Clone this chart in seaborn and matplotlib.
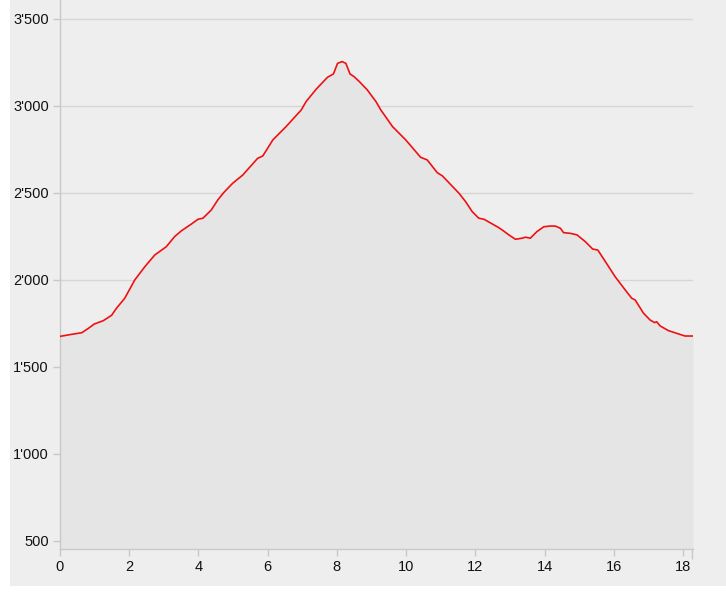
import matplotlib
matplotlib.use("Agg")
import matplotlib.pyplot as plt
import matplotlib.patches as mpatches
from matplotlib.ticker import FuncFormatter, FixedLocator
import seaborn as sns
import pandas as pd

distance_km = [0.0, 0.29, 0.63, 0.82, 0.99, 1.25, 1.49, 1.63, 1.87, 2.16, 2.45, 2.74, 3.07,
               3.31, 3.51, 3.80, 3.99, 4.13, 4.37, 4.56, 4.73, 4.99, 5.28, 5.71, 5.86, 6.15,
               6.53, 6.97, 7.11, 7.40, 7.73, 7.90, 8.02, 8.15, 8.26, 8.38, 8.50, 8.65, 8.88,
               9.13, 9.27, 9.61, 9.99, 10.42, 10.61, 10.90, 11.05, 11.53, 11.72, 11.91, 12.10,
               12.25, 12.49, 12.66, 12.78, 12.97, 13.16, 13.35, 13.45, 13.59, 13.78, 13.98,
               14.17, 14.31, 14.46, 14.55, 14.75, 14.94, 15.18, 15.39, 15.54, 15.76, 16.04,
               16.33, 16.52, 16.62, 16.86, 17.05, 17.18, 17.24, 17.34, 17.58, 17.87, 18.06,
               18.29]
elevation_m = [1676, 1686, 1697, 1722, 1747, 1766, 1797, 1837, 1895, 2000, 2076, 2144, 2191,
               2249, 2283, 2322, 2349, 2355, 2402, 2460, 2502, 2556, 2603, 2699, 2713, 2805,
               2881, 2977, 3025, 3096, 3165, 3184, 3245, 3255, 3245, 3184, 3168, 3140, 3092,
               3025, 2977, 2881, 2805, 2705, 2690, 2617, 2598, 2498, 2450, 2393, 2355,
               2349, 2322, 2303, 2287, 2259, 2234, 2240, 2246, 2240, 2278, 2306,
               2310, 2310, 2297, 2272, 2268, 2259, 2220, 2178, 2172, 2105, 2019,
               1943, 1895, 1885, 1809, 1770, 1755, 1760, 1736, 1709, 1690, 1678,
               1678]
x_ticks = [0, 2, 4, 6, 8, 10, 12, 14, 16, 18]
y_ticks = [500, 1000, 1500, 2000, 2500, 3000, 3500]

df = pd.DataFrame({"km": distance_km, "elev": elevation_m})

sns.set_theme(style="white")
plt.rcParams['font.family'] = ['Liberation Sans', 'DejaVu Sans']

fig = plt.figure(figsize=(7.26, 5.94), dpi=100, facecolor="white")
bg = mpatches.Rectangle((10 / 726, 8 / 594), 716 / 726, 586 / 594,
                        transform=fig.transFigure, facecolor="#eeeeee",
                        edgecolor="none", zorder=-10)
fig.add_artist(bg)
ax = fig.add_axes([60 / 726, 45 / 594, 633 / 726, 549 / 594])
ax.set_zorder(1)
ax.set_facecolor("#eeeeee")

ax.fill_between(df["km"], df["elev"], 0, color="#e5e5e5", zorder=1, linewidth=0)
sns.lineplot(data=df, x="km", y="elev", ax=ax, color="#ee1111", linewidth=1.2, zorder=3)

ax.set_xlim(0, 18.29)
ax.set_ylim(454, 3609)
ax.set_xticks(x_ticks)
ax.set_yticks(y_ticks)
ax.xaxis.set_minor_locator(FixedLocator([18.27]))
ax.yaxis.set_major_formatter(FuncFormatter(lambda v, p: f"{int(v):,}".replace(",", "'")))
ax.set_xlabel("")
ax.set_ylabel("")

ax.grid(axis="y", color="#d6d6d6", linewidth=1)
ax.grid(axis="x", visible=False)
ax.set_axisbelow(True)

for s in ["top", "right"]:
    ax.spines[s].set_visible(False)
for s in ["left", "bottom"]:
    ax.spines[s].set_color("#c8c8c8")
    ax.spines[s].set_linewidth(1)

ax.tick_params(axis="both", which="major", length=5, width=1, color="#c8c8c8",
               labelsize=10.5, labelcolor="#111111", direction="out",
               left=True, bottom=True, pad=3)
ax.tick_params(axis="x", which="minor", length=7, width=1, color="#c8c8c8",
               bottom=True, direction="out")

fig.savefig("out.png", dpi=100, facecolor="white")
